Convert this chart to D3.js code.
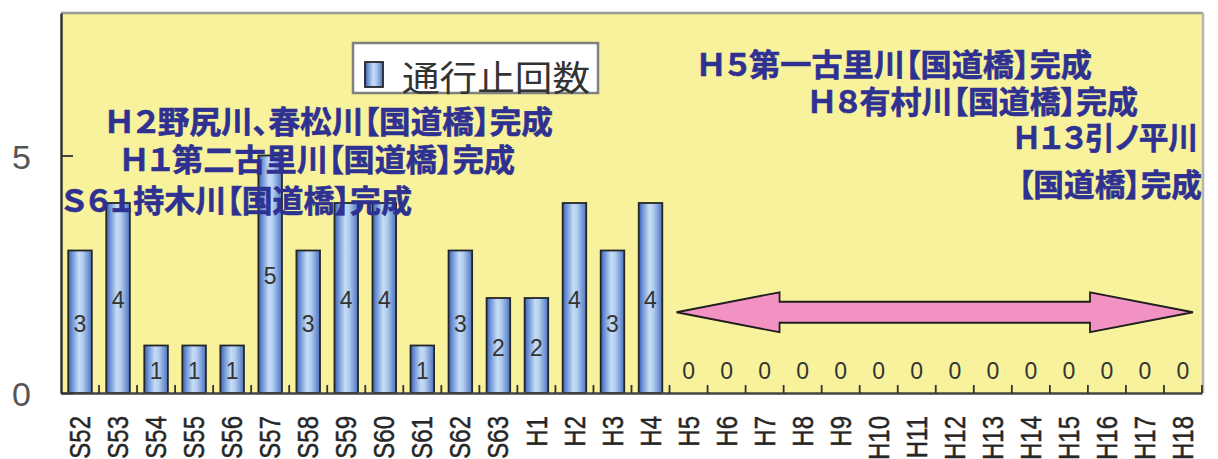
<!DOCTYPE html>
<html>
<head>
<meta charset="utf-8">
<script src="https://cdn.jsdelivr.net/npm/d3@7"></script>
<style>
  body { margin: 0; background: #fff; }
  svg { display: block; }
  .note { font-feature-settings: "palt"; }
</style>
</head>
<body>
<svg id="chart" width="1218" height="459"></svg>
<script>
// Fiscal years (Showa 52 – Heisei 18)
const years = ["S52","S53","S54","S55","S56","S57","S58","S59","S60","S61","S62","S63",
               "H1","H2","H3","H4","H5","H6","H7","H8","H9","H10","H11","H12","H13",
               "H14","H15","H16","H17","H18"];
// Number of road closures per year
const closures = [3,4,1,1,1,5,3,4,4,1,3,2,
                  2,4,3,4,0,0,0,0,0,0,0,0,0,
                  0,0,0,0,0];
const yTicks = [0, 5];
const legendLabel = "通行止回数";
// Bridge completion notes
const notes = [
  "Ｓ６１持木川【国道橋】完成",
  "Ｈ１第二古里川【国道橋】完成",
  "Ｈ２野尻川、春松川【国道橋】完成",
  "Ｈ５第一古里川【国道橋】完成",
  "Ｈ８有村川【国道橋】完成",
  "Ｈ１３引ノ平川",
  "【国道橋】完成"
];
// Period with no closures
const zeroSpan = ["H5", "H18"];

// ---- layout ----
const M = { left: 61, right: 1202, top: 13, bottom: 393 };
const noteLayout = [
  { x: 62,   y: 198.5, w: 350 },
  { x: 120,  y: 157.5, w: 395 },
  { x: 105,  y: 119,   w: 448 },
  { x: 697,  y: 62.5,  w: 395 },
  { x: 808,  y: 99.5,  w: 330 },
  { x: 1013, y: 135,   w: 185 },
  { x: 1018, y: 182.5, w: 184 }
];

const svg = d3.select("#chart");
const x = d3.scaleBand().domain(years).range([M.left, M.right]).padding(0);
const y = d3.scaleLinear().domain([0, 8]).range([M.bottom, M.top]);
const barW = x.bandwidth() * 0.62;

// gradients
const defs = svg.append("defs");
const g = defs.append("linearGradient").attr("id", "barGrad")
  .attr("x1", "0%").attr("x2", "100%").attr("y1", "0%").attr("y2", "0%");
[["0%", "#3a5fb4"], ["18%", "#7197d8"], ["45%", "#c6ddf5"], ["62%", "#b2cdef"], ["100%", "#4c72c0"]]
  .forEach(([o, c]) => g.append("stop").attr("offset", o).attr("stop-color", c));

// plot background
svg.append("rect")
  .attr("x", M.left).attr("y", M.top)
  .attr("width", M.right - M.left).attr("height", M.bottom - M.top)
  .attr("fill", "#f8f29c");

// top / right frame
svg.append("line").attr("x1", M.left).attr("x2", M.right + 1)
  .attr("y1", M.top).attr("y2", M.top)
  .attr("stroke", "#9a9a9a").attr("stroke-width", 2.5);
svg.append("line").attr("x1", M.right + 1).attr("x2", M.right + 1)
  .attr("y1", M.top).attr("y2", M.bottom)
  .attr("stroke", "#b5b5b5").attr("stroke-width", 2.5);

// bars
svg.append("g").selectAll("rect")
  .data(years.map((d, i) => ({ year: d, v: closures[i] })).filter(d => d.v > 0))
  .join("rect")
  .attr("x", d => x(d.year) + (x.bandwidth() - barW) / 2)
  .attr("y", d => y(d.v))
  .attr("width", barW)
  .attr("height", d => y(0) - y(d.v))
  .attr("fill", "url(#barGrad)")
  .attr("stroke", "#262626")
  .attr("stroke-width", 1.8);

// value labels
svg.append("g").selectAll("text")
  .data(years.map((d, i) => ({ year: d, v: closures[i] })))
  .join("text")
  .attr("x", d => x(d.year) + x.bandwidth() / 2)
  .attr("y", d => y(Math.max(d.v, 1) / 2) + 2)
  .attr("text-anchor", "middle")
  .attr("dominant-baseline", "central")
  .attr("font-family", "'Liberation Sans', Arial, sans-serif")
  .attr("font-size", 23)
  .attr("fill", "#333")
  .text(d => d.v);

// double-headed arrow over the zero period
{
  const tipL = x(zeroSpan[0]) + 7;
  const tipR = x(zeroSpan[1]) + x.bandwidth() - 9;
  const cy = y(1.7), head = 103, hh = 20, sh = 10.5;
  const p = d3.path();
  p.moveTo(tipL, cy);
  p.lineTo(tipL + head, cy - hh);
  p.lineTo(tipL + head, cy - sh);
  p.lineTo(tipR - head, cy - sh);
  p.lineTo(tipR - head, cy - hh);
  p.lineTo(tipR, cy);
  p.lineTo(tipR - head, cy + hh);
  p.lineTo(tipR - head, cy + sh);
  p.lineTo(tipL + head, cy + sh);
  p.lineTo(tipL + head, cy + hh);
  p.closePath();
  svg.append("path").attr("d", p.toString())
    .attr("fill", "#f292c2").attr("stroke", "#1e1e1e").attr("stroke-width", 1.8)
    .attr("stroke-linejoin", "miter");
}

// x axis
const xAxis = svg.append("g").attr("transform", `translate(0,${M.bottom})`)
  .call(d3.axisBottom(x).tickSize(0).tickSizeOuter(0));
xAxis.select(".domain").attr("stroke", "#444").attr("stroke-width", 2.5);
xAxis.selectAll("text")
  .attr("transform", "rotate(-90) scale(1,1.2)")
  .attr("x", -23).attr("y", 0).attr("dy", "0.35em")
  .style("text-anchor", "end")
  .attr("font-family", "'Liberation Sans', Arial, sans-serif")
  .attr("font-size", 24)
  .attr("stroke", "#262626").attr("stroke-width", 0.4)
  .attr("fill", "#262626");

// category boundary ticks
svg.append("g").selectAll("line")
  .data(d3.range(1, years.length + 1))
  .join("line")
  .attr("x1", i => M.left + i * x.step()).attr("x2", i => M.left + i * x.step())
  .attr("y1", M.bottom).attr("y2", M.bottom - 8)
  .attr("stroke", "#333").attr("stroke-width", 1.8);

// y axis
const yAxis = svg.append("g").attr("transform", `translate(${M.left},0)`)
  .call(d3.axisLeft(y).tickValues(yTicks).tickSize(-12).tickSizeOuter(0).tickPadding(30));
yAxis.select(".domain").attr("stroke", "#333").attr("stroke-width", 2.5);
yAxis.selectAll(".tick line").attr("stroke", "#333").attr("stroke-width", 1.8);
yAxis.selectAll("text")
  .attr("dy", "0.38em")
  .attr("font-family", "'Liberation Sans', Arial, sans-serif")
  .attr("font-size", 34)
  .attr("fill", "#555");

// legend
const lg = svg.append("g");
lg.append("rect").attr("x", 353).attr("y", 43).attr("width", 245).attr("height", 50)
  .attr("fill", "#fff").attr("stroke", "#808080").attr("stroke-width", 2.5);
lg.append("rect").attr("x", 365).attr("y", 62).attr("width", 18).attr("height", 25)
  .attr("fill", "url(#barGrad)").attr("stroke", "#262626").attr("stroke-width", 1.8);
lg.append("text").attr("x", 402).attr("y", 75)
  .attr("dominant-baseline", "central")
  .attr("font-family", "'Noto Sans CJK JP', sans-serif")
  .attr("font-size", 35).attr("fill", "#333")
  .attr("textLength", 188).attr("lengthAdjust", "spacingAndGlyphs")
  .text(legendLabel);

// notes
svg.append("g").selectAll("text")
  .data(notes)
  .join("text")
  .attr("class", "note")
  .attr("x", (d, i) => noteLayout[i].x)
  .attr("y", (d, i) => noteLayout[i].y)
  .attr("dominant-baseline", "central")
  .attr("font-family", "'Noto Sans CJK JP', sans-serif")
  .attr("font-weight", 700)
  .attr("font-size", 31)
  .attr("fill", "#2e3192")
  .attr("stroke", "#2e3192").attr("stroke-width", 0.6)
  .attr("textLength", (d, i) => noteLayout[i].w)
  .attr("lengthAdjust", "spacingAndGlyphs")
  .text(d => d);
</script>
</body>
</html>
